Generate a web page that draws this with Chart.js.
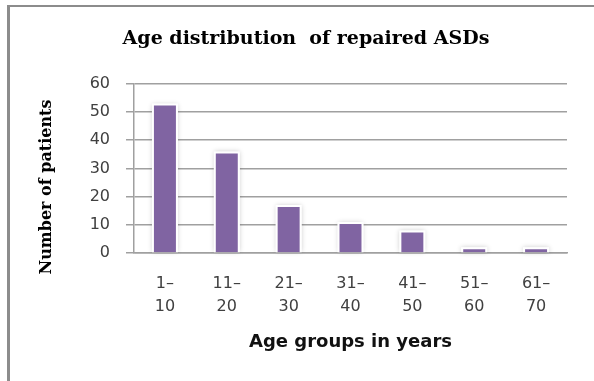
<!DOCTYPE html>
<html>
<head>
<meta charset="utf-8">
<script src="https://cdn.jsdelivr.net/npm/chart.js@4/dist/chart.umd.min.js"></script>
<style>
  html, body { margin: 0; padding: 0; background: #fff; }
  #wrap { position: relative; width: 594px; height: 381px; }
</style>
</head>
<body>
<div id="wrap"><canvas id="ageChart"></canvas></div>
<script>
// age groups (two-line labels) and patient counts
const ageGroups = [['1–', '10'], ['11–', '20'], ['21–', '30'], ['31–', '40'], ['41–', '50'], ['51–', '60'], ['61–', '70']]
const patientCounts = [53, 36, 17, 11, 8, 2, 2]
const yMin = 0
const yMax = 60
const yStep = 10

const chartTitle = 'Age distribution  of repaired ASDs'
const xTitle = 'Age groups in years'
const yTitle = 'Number of patients'

// grey frame on the top and left edge, like the cropped figure box
const framePlugin = {
  id: 'frame',
  beforeDraw(chart) {
    const ctx = chart.ctx
    ctx.save()
    ctx.fillStyle = '#8c8c8c'
    ctx.fillRect(7, 5, chart.width - 7, 2)
    ctx.fillRect(7, 5, 3, chart.height - 5)
    ctx.restore()
  }
}

// soft glow behind each bar (Excel style)
const barGlow = {
  id: 'barGlow',
  beforeDatasetsDraw(chart) {
    const ctx = chart.ctx
    ctx.save()
    ctx.shadowColor = 'rgba(0,0,0,0.22)'
    ctx.shadowBlur = 5
    ctx.fillStyle = '#fff'
    chart.getDatasetMeta(0).data.forEach(bar => {
      ctx.fillRect(bar.x - bar.width / 2, bar.y, bar.width, bar.base - bar.y)
    })
    ctx.restore()
  }
}

// y axis title sits lower than the plot centre in the original, and is longer
// than the plot is tall, so it is drawn here instead of through scale.title
const yTitlePlugin = {
  id: 'yTitle',
  afterDraw(chart) {
    const ctx = chart.ctx
    const area = chart.chartArea
    ctx.save()
    ctx.translate(47, area.bottom - 66)
    ctx.rotate(-Math.PI / 2)
    ctx.font = 'bold 16px "DejaVu Serif"'
    ctx.fillStyle = '#000'
    ctx.textAlign = 'center'
    ctx.textBaseline = 'middle'
    ctx.fillText(yTitle, 0, 0)
    ctx.restore()
  }
}

const gridGrey = '#a0a0a0'

const config = {
  type: 'bar',
  data: {
    labels: ageGroups,
    datasets: [{
      data: patientCounts,
      backgroundColor: '#8064a2',
      borderColor: '#ffffff',
      borderWidth: 2,
      categoryPercentage: 1,
      barPercentage: 0.42
    }]
  },
  options: {
    responsive: true,
    maintainAspectRatio: false,
    animation: false,
    layout: { padding: { left: 45, right: 27, top: 0, bottom: 0 } },
    plugins: {
      legend: { display: false },
      tooltip: { enabled: false },
      title: {
        display: true,
        text: chartTitle,
        color: '#000',
        font: { family: 'DejaVu Serif', size: 19, weight: 'bold', lineHeight: 1.2 },
        padding: { top: 28, bottom: 33 }
      }
    },
    scales: {
      x: {
        grid: { display: false, drawTicks: false },
        border: { display: true, color: gridGrey, width: 1.5 },
        ticks: {
          color: '#404040',
          font: { family: 'DejaVu Sans', size: 16, lineHeight: 1.4 },
          padding: 20,
          maxRotation: 0,
          autoSkip: false
        },
        title: {
          display: true,
          text: xTitle,
          color: '#111',
          font: { family: 'DejaVu Sans', size: 18, weight: 'bold', lineHeight: 1.2 },
          padding: { top: 0, bottom: 28 }
        },
        afterFit(scale) { scale.height = 128 }
      },
      y: {
        min: yMin,
        max: yMax,
        ticks: {
          stepSize: yStep,
          color: '#404040',
          font: { family: 'DejaVu Sans', size: 16 },
          padding: 16
        },
        grid: { color: gridGrey, lineWidth: 1.5, tickLength: 8 },
        border: { color: gridGrey, width: 1.5 },
        afterFit(scale) { scale.width = 89 }
      }
    }
  },
  plugins: [framePlugin, barGlow, yTitlePlugin]
}

const ageChart = new Chart(document.getElementById('ageChart'), config)
</script>
</body>
</html>
